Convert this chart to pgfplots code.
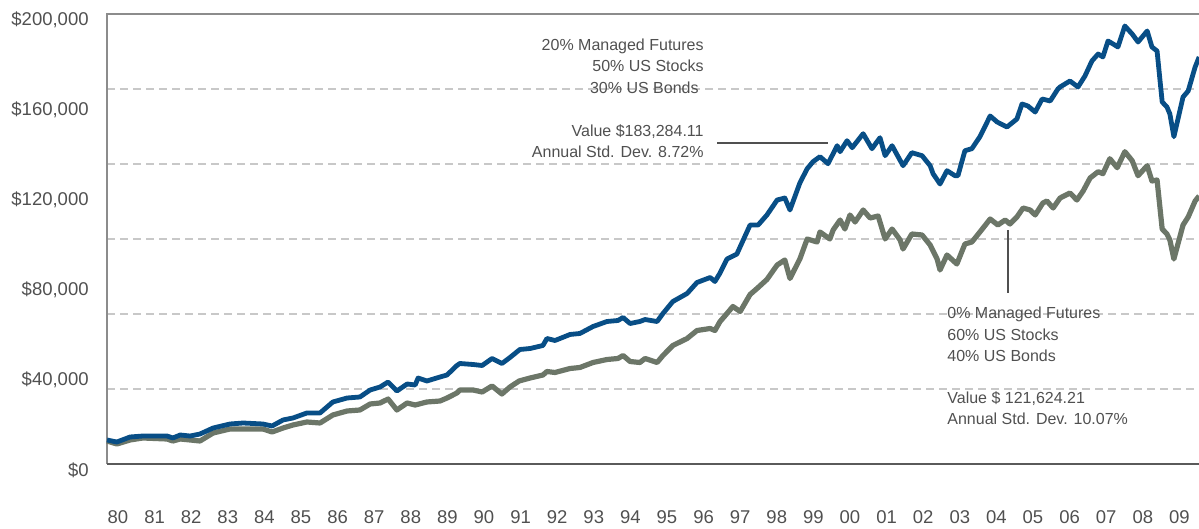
\documentclass[border=0pt]{standalone}
\usepackage{pgfplots}
\pgfplotsset{compat=1.18}
\usepackage{fontspec}
\setmainfont{Liberation Sans}
\definecolor{mfblue}{RGB}{8,78,134}
\definecolor{mfgray}{RGB}{108,118,104}
\definecolor{txt}{RGB}{80,80,80}
\definecolor{gridc}{RGB}{200,200,200}
\definecolor{axl}{RGB}{140,140,140}
\definecolor{axb}{RGB}{90,90,90}
\begin{document}
\begin{tikzpicture}
\path[use as bounding box] (0,0) rectangle (599.5pt,264.5pt);
\begin{axis}[
  at={(53.5pt,32.5pt)}, anchor=south west,
  scale only axis, width=546pt, height=225pt,
  xmin=1980, xmax=2009.836, ymin=0, ymax=200000,
  clip=false,
  axis line style={draw=none},
  tick style={draw=none},
  major tick length=0pt,
  xtick={1980.3,1981.3,1982.3,1983.3,1984.3,1985.3,1986.3,1987.3,1988.3,1989.3,1990.3,1991.3,1992.3,1993.3,1994.3,1995.3,1996.3,1997.3,1998.3,1999.3,2000.3,2001.3,2002.3,2003.3,2004.3,2005.3,2006.3,2007.3,2008.3,2009.3},
  xticklabels={80,81,82,83,84,85,86,87,88,89,90,91,92,93,94,95,96,97,98,99,00,01,02,03,04,05,06,07,08,09},
  ytick={0,40000,80000,120000,160000,200000},
  yticklabels={{\$0},{\$40,000},{\$80,000},{\$120,000},{\$160,000},{\$200,000}},
  scaled y ticks=false,
  ticklabel style={font=\fontsize{9.25}{11}\selectfont, text=txt, inner sep=0pt},
  xticklabel style={anchor=north, yshift=-23.2pt},
  yticklabel style={anchor=east, xshift=-9pt, yshift=-3pt},
  extra y ticks={33333.33,66666.67,100000,133333.33,166666.67},
  extra y tick labels={},
  extra y tick style={grid=major, tick style={draw=none}},
  major grid style={gridc, dash pattern=on 4pt off 2.5pt, line width=0.6pt},
]
\draw[axl, line width=1pt] (rel axis cs:0,0) -- (rel axis cs:0,1) -- (rel axis cs:1,1);
\draw[axb, line width=1pt] (rel axis cs:0,0) -- (rel axis cs:1,0);

\addplot[mfgray, line width=2.6pt, line join=round, mark=none] coordinates {
(1980.00,10220) (1980.27,8890) (1980.63,10670) (1980.98,11560) (1981.64,11110) (1981.80,10220)
(1982.00,11110) (1982.27,10670) (1982.54,10220) (1982.90,13780) (1983.36,15560) (1983.72,15560)
(1984.26,15560) (1984.51,14220) (1984.81,16000) (1985.08,17330) (1985.46,18670) (1985.82,18220)
(1986.17,21780) (1986.56,23560) (1986.91,24000) (1987.19,26670) (1987.46,27110) (1987.68,28890)
(1987.92,24000) (1988.20,27110) (1988.42,26220) (1988.74,27560) (1989.10,28000) (1989.29,29330)
(1989.56,31560) (1989.64,32890) (1990.00,32890) (1990.25,32000) (1990.52,34670) (1990.79,31110)
(1991.01,34220) (1991.26,36890) (1991.56,38220) (1991.91,39560) (1992.02,41110) (1992.24,40670)
(1992.65,42440) (1992.92,42890) (1993.28,45110) (1993.66,46440) (1993.96,46890) (1994.10,48220)
(1994.29,45560) (1994.56,45110) (1994.70,46890) (1995.03,45110) (1995.19,48220) (1995.46,52670)
(1995.85,55780) (1996.12,59330) (1996.48,60220) (1996.61,59330) (1996.75,63330) (1996.94,66890)
(1997.10,70000) (1997.30,67780) (1997.57,75330) (1997.76,78000) (1998.03,82000) (1998.31,88440)
(1998.52,90670) (1998.66,82440) (1998.93,91110) (1999.13,100000) (1999.40,98670) (1999.48,103110)
(1999.75,100000) (1999.84,104000) (2000.03,108440) (2000.16,104440) (2000.30,110670) (2000.44,107560)
(2000.66,112890) (2000.85,109330) (2001.07,110220) (2001.26,100000) (2001.45,104440) (2001.67,99560)
(2001.75,95560) (2001.99,102220) (2002.27,101780) (2002.49,97330) (2002.68,91110) (2002.76,86220)
(2002.95,92890) (2003.22,88890) (2003.44,97780) (2003.63,98670) (2003.85,103110) (2004.13,108890)
(2004.34,106220) (2004.54,108440) (2004.67,106670) (2004.86,109780) (2005.03,113780) (2005.22,112890)
(2005.36,110670) (2005.57,116000) (2005.68,116890) (2005.85,113780) (2006.04,118220) (2006.31,120440)
(2006.50,117330) (2006.67,121330) (2006.86,127110) (2007.08,129910) (2007.21,129020) (2007.40,135690)
(2007.60,131690) (2007.81,138800) (2008.01,134800) (2008.17,128130) (2008.42,132580) (2008.55,125780)
(2008.69,126220) (2008.83,104440) (2008.96,102220) (2009.04,99560) (2009.15,91110) (2009.40,106220)
(2009.54,109780) (2009.73,116890) (2009.84,119110)
};

\addplot[mfblue, line width=2.4pt, line join=round, mark=none] coordinates {
(1980.00,10670) (1980.27,9780) (1980.63,12000) (1980.98,12440) (1981.64,12440) (1981.80,11560)
(1982.00,12890) (1982.27,12440) (1982.54,13330) (1982.90,16000) (1983.36,17780) (1983.72,18220)
(1984.26,17780) (1984.51,16890) (1984.81,19560) (1985.08,20440) (1985.46,22670) (1985.82,22670)
(1986.17,27560) (1986.56,29330) (1986.91,29780) (1987.19,32890) (1987.46,34220) (1987.68,36440)
(1987.92,32440) (1988.20,35560) (1988.42,35110) (1988.50,38220) (1988.74,36890) (1989.10,38670)
(1989.29,39560) (1989.56,43780) (1989.64,44670) (1990.00,44220) (1990.25,43780) (1990.52,46890)
(1990.79,44670) (1991.01,47330) (1991.28,50890) (1991.56,51330) (1991.91,52670) (1992.02,55780)
(1992.24,54890) (1992.65,57560) (1992.92,58000) (1993.28,61110) (1993.66,63330) (1993.96,63780)
(1994.10,65110) (1994.29,62440) (1994.56,63330) (1994.70,64220) (1995.03,63330) (1995.19,66890)
(1995.46,72220) (1995.85,75780) (1996.12,80670) (1996.48,82890) (1996.61,81110) (1996.75,84890)
(1996.94,91110) (1997.21,93330) (1997.57,106220) (1997.79,106220) (1998.03,110670) (1998.31,117330)
(1998.52,118220) (1998.66,112890) (1998.93,124890) (1999.13,131240) (1999.29,134360) (1999.48,136580)
(1999.70,133470) (1999.95,141470) (2000.03,138800) (2000.22,143690) (2000.36,140580) (2000.66,146800)
(2000.90,140130) (2001.12,145020) (2001.26,137020) (2001.45,141470) (2001.75,132580) (2001.99,138360)
(2002.27,137020) (2002.49,132580) (2002.57,129020) (2002.76,124440) (2002.95,130360) (2003.17,128130)
(2003.25,128130) (2003.44,139240) (2003.63,140130) (2003.85,145470) (2004.13,154670) (2004.32,152000)
(2004.59,149780) (2004.86,153330) (2005.00,160000) (2005.16,159110) (2005.36,156440) (2005.55,162220)
(2005.77,161330) (2005.98,166670) (2006.04,167560) (2006.31,170220) (2006.53,167560) (2006.72,172440)
(2006.91,179110) (2007.08,182220) (2007.21,180890) (2007.35,188000) (2007.49,186670) (2007.62,185330)
(2007.81,194670) (2008.01,191110) (2008.17,187560) (2008.42,192440) (2008.55,185330) (2008.69,183560)
(2008.83,160890) (2008.96,158670) (2009.04,155560) (2009.15,145470) (2009.40,163110) (2009.54,165780)
(2009.73,176440) (2009.84,180890)
};
\end{axis}

\draw[txt, line width=0.7pt] (358.5pt,193pt) -- (414pt,193pt);
\draw[txt, line width=0.7pt] (504pt,149.25pt) -- (504pt,118pt);

\begin{scope}[every node/.style={inner sep=0pt, text=txt, font=\fontsize{8}{10}\selectfont}]
\node[anchor=base east] at (352pt,239.1pt) {20\% Managed Futures};
\node[anchor=base east] at (352pt,228.6pt) {50\% US Stocks};
\node[anchor=base east] at (349.5pt,217.6pt) {30\% US Bonds};
\node[anchor=base east] at (352pt,196.1pt) {Value \$183,284.11};
\node[anchor=base east] at (352pt,185.6pt) {Annual Std. Dev. 8.72\%};
\node[anchor=base west] at (473.5pt,105.1pt) {0\% Managed Futures};
\node[anchor=base west] at (473.5pt,94.1pt) {60\% US Stocks};
\node[anchor=base west] at (473.5pt,83.6pt) {40\% US Bonds};
\node[anchor=base west] at (473.5pt,62.6pt) {Value \$ 121,624.21};
\node[anchor=base west] at (473.5pt,52.1pt) {Annual Std. Dev. 10.07\%};
\end{scope}
\end{tikzpicture}
\end{document}
